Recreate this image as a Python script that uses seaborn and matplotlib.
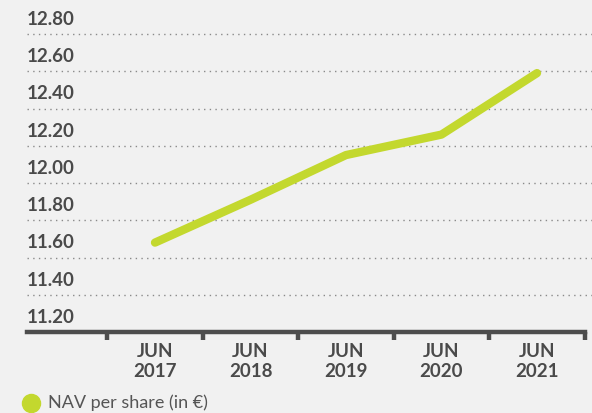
import matplotlib
matplotlib.use("Agg")
import matplotlib.pyplot as plt
import seaborn as sns
import pandas as pd
from matplotlib.lines import Line2D
from matplotlib import transforms

# ---- data ----
years = ["2017", "2018", "2019", "2020", "2021"]
x_labels = ["JUN\n2017", "JUN\n2018", "JUN\n2019", "JUN\n2020", "JUN\n2021"]
nav = [11.68, 11.91, 12.15, 12.26, 12.59]
y_ticks = [11.20, 11.40, 11.60, 11.80, 12.00, 12.20, 12.40, 12.60, 12.80]
y_tick_labels = ["11.20", "11.40", "11.60", "11.80", "12.00", "12.20", "12.40", "12.60", "12.80"]
series_name = "NAV per share (in €)"

BG = "#f1f1f1"
GREEN = "#c3d82e"
DARK = "#4a4a4a"

sns.set_theme(style="white")
plt.rcParams["font.family"] = ["Lato", "DejaVu Sans"]

df = pd.DataFrame({"pos": range(len(years)), "nav": nav})

W, H = 592, 413
fig = plt.figure(figsize=(W / 100, H / 100), dpi=100, facecolor=BG)
# axes: left px 27 -> right px 592, bottom px 332 -> top px 0
ax = fig.add_axes([27 / W, (H - 332) / H, (592 - 27) / W, 332 / H])
ax.set_facecolor(BG)

px_per_cat = 95.5
x0_px = 155
ax.set_xlim((27 - x0_px) / px_per_cat, (592 - x0_px) / px_per_cat)
step_px = 37.25
ax.set_ylim(11.20, 12.80 + 34 / step_px * 0.2)

sns.lineplot(data=df, x="pos", y="nav", ax=ax, color=GREEN, linewidth=6,
             solid_capstyle="round", solid_joinstyle="round", legend=False)

# dotted gridlines
for v in y_ticks[1:]:
    ax.axhline(v, color="#8a8a8a", linewidth=1.0, linestyle=(0, (1, 3.1)), zorder=0)

# y labels sitting above gridlines
for v, lab in zip(y_ticks, y_tick_labels):
    ax.text(0.0, v + 0.078, lab, transform=transforms.blended_transform_factory(ax.transAxes, ax.transData),
            ha="left", va="center", fontsize=13.5, fontweight="bold", color=DARK)

ax.set_yticks([])
ax.set_ylabel("")
ax.set_xlabel("")
for s in ["top", "right", "left"]:
    ax.spines[s].set_visible(False)
ax.spines["bottom"].set_color("#4d4d4d")
ax.spines["bottom"].set_linewidth(3.2)
right_end = len(years) - 0.5
ax.spines["bottom"].set_bounds(ax.get_xlim()[0], right_end)

ax.set_xticks(range(len(years)))
ax.set_xticklabels(x_labels, fontsize=13.5, fontweight="bold", color=DARK, linespacing=1.2)
ax.tick_params(axis="x", which="major", length=0, pad=8, bottom=True)
ax.set_xticks([i - 0.5 for i in range(len(years) + 1)], minor=True)
ax.tick_params(axis="x", which="minor", length=6, width=3.2, color="#4d4d4d",
               direction="out", bottom=True)

# legend
fig.add_artist(Line2D([31 / W], [(H - 403) / H], marker="o", markersize=13, color=GREEN,
                      linestyle="none", transform=fig.transFigure))
fig.text(48 / W, (H - 403) / H, series_name, ha="left", va="center", fontsize=13,
         color="#555555")

fig.savefig("out.png", dpi=100, facecolor=BG)
